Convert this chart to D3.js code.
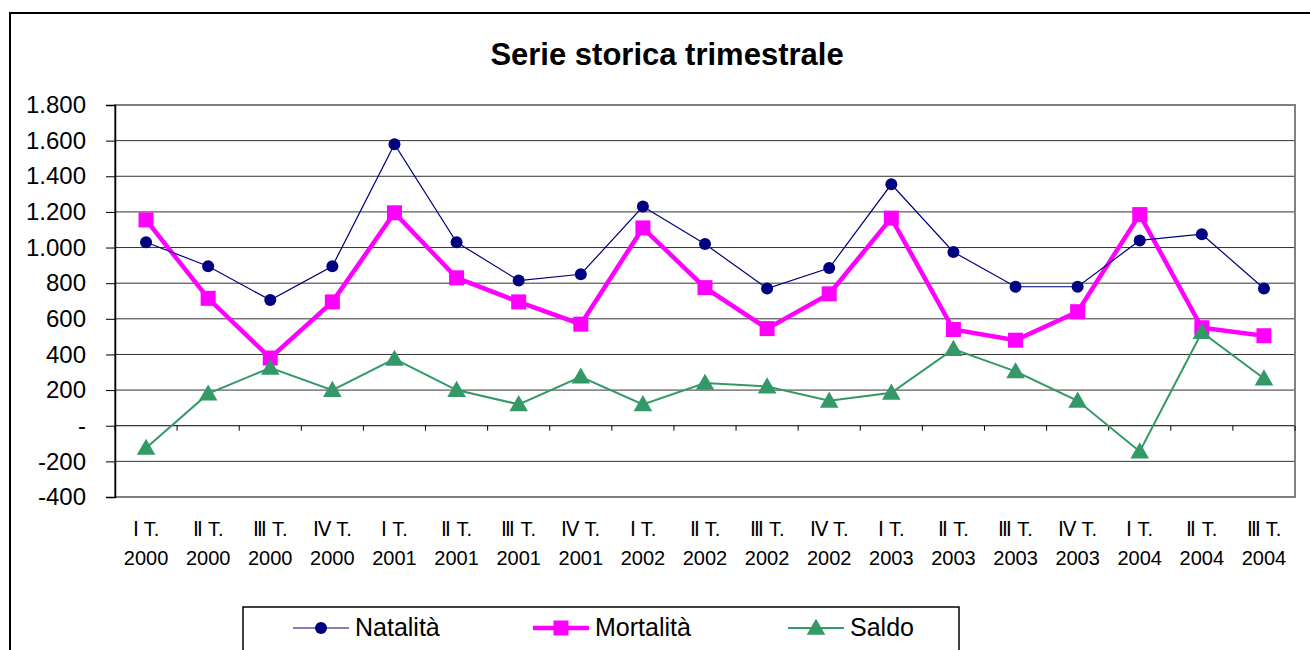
<!DOCTYPE html>
<html>
<head>
<meta charset="utf-8">
<script src="https://cdn.jsdelivr.net/npm/d3@7"></script>
<style>
  body { margin: 0; background: #fff; }
  text { font-family: "Liberation Sans", Arial, sans-serif; fill: #000; }
</style>
</head>
<body>
<script>
const w = 1310;
const h = 650;

// quarters and years along the x axis
const quarters = ["Ⅰ T.", "Ⅱ T.", "Ⅲ T.", "Ⅳ T.",
                  "Ⅰ T.", "Ⅱ T.", "Ⅲ T.", "Ⅳ T.",
                  "Ⅰ T.", "Ⅱ T.", "Ⅲ T.", "Ⅳ T.",
                  "Ⅰ T.", "Ⅱ T.", "Ⅲ T.", "Ⅳ T.",
                  "Ⅰ T.", "Ⅱ T.", "Ⅲ T."];
const years = ["2000","2000","2000","2000","2001","2001","2001","2001",
               "2002","2002","2002","2002","2003","2003","2003","2003",
               "2004","2004","2004"];

const natalita  = [1030, 895, 705, 895, 1580, 1030, 815, 850, 1230, 1020, 770, 885, 1355, 975, 780, 780, 1040, 1075, 770];
const mortalita = [1155, 715, 380, 695, 1195, 830, 695, 570, 1110, 775, 545, 740, 1165, 540, 480, 640, 1185, 550, 505];
const saldo     = [-125, 180, 325, 200, 375, 200, 120, 275, 120, 240, 220, 140, 185, 430, 305, 140, -145, 525, 265];

const yTicks = [-400, -200, 0, 200, 400, 600, 800, 1000, 1200, 1400, 1600, 1800];

const plotLeft = 115, plotRight = 1295, plotTop = 105, plotBottom = 497;
const idx = d3.range(quarters.length);

const xScale = d3.scaleBand()
                 .domain(idx)
                 .range([plotLeft, plotRight]);
const cx = i => xScale(i) + xScale.bandwidth() / 2;

const yScale = d3.scaleLinear()
                 .domain([-400, 1800])
                 .range([plotBottom, plotTop]);

const svg = d3.select("body")
              .append("svg")
              .attr("width", w)
              .attr("height", h);

// outer chart frame
svg.append("rect")
   .attr("x", 10).attr("y", 13)
   .attr("width", 1320).attr("height", 660)
   .attr("fill", "#fff")
   .attr("stroke", "#000")
   .attr("stroke-width", 2);

svg.append("text")
   .attr("x", 667).attr("y", 65)
   .attr("text-anchor", "middle")
   .attr("font-size", 31)
   .attr("font-weight", "bold")
   .text("Serie storica trimestrale");

// gridlines
svg.append("g")
   .selectAll("line")
   .data(yTicks.filter(d => d !== 1800 && d !== -400))
   .enter()
   .append("line")
   .attr("x1", plotLeft).attr("x2", plotRight)
   .attr("y1", d => yScale(d)).attr("y2", d => yScale(d))
   .attr("stroke", d => d === 0 ? "#000" : "#333")
   .attr("stroke-width", 1);

// plot frame (gray)
svg.append("rect")
   .attr("x", plotLeft).attr("y", plotTop)
   .attr("width", plotRight - plotLeft).attr("height", plotBottom - plotTop)
   .attr("fill", "none")
   .attr("stroke", "#808080")
   .attr("stroke-width", 2);

// y axis
const yAxis = d3.axisLeft(yScale)
                .tickValues(yTicks)
                .tickSize(9)
                .tickPadding(20)
                .tickFormat(d => d === 0 ? "-" : d3.format(",")(d).replace(/,/g, ".").replace("−", "-"));

const gy = svg.append("g")
   .attr("transform", "translate(" + plotLeft + ",0)")
   .call(yAxis);
gy.select(".domain").attr("stroke", "#000").attr("stroke-width", 1.5);
gy.selectAll(".tick line").attr("stroke", "#000");
gy.selectAll("text")
  .attr("font-size", 24)
  .attr("font-family", "Liberation Sans, Arial, sans-serif")
  .attr("fill", "#000");

// x tick marks on the zero line
svg.append("g")
   .selectAll("line")
   .data(d3.range(quarters.length + 1))
   .enter()
   .append("line")
   .attr("x1", i => plotLeft + i * xScale.step())
   .attr("x2", i => plotLeft + i * xScale.step())
   .attr("y1", yScale(0)).attr("y2", yScale(0) + 5)
   .attr("stroke", "#000");

// x labels
const xl = svg.append("g")
   .selectAll("text")
   .data(idx)
   .enter()
   .append("text")
   .attr("text-anchor", "middle")
   .attr("font-size", 20);
xl.append("tspan").attr("x", cx).attr("y", 536).text(i => quarters[i]);
xl.append("tspan").attr("x", cx).attr("y", 565).text(i => years[i]);

const line = d3.line()
               .x((d, i) => cx(i))
               .y(d => yScale(d));

const tri = d3.symbol().type(d3.symbolTriangle).size(150);

// Saldo
svg.append("path")
   .datum(saldo)
   .attr("d", line)
   .attr("fill", "none")
   .attr("stroke", "#339966")
   .attr("stroke-width", 2);

// Mortalità
svg.append("path")
   .datum(mortalita)
   .attr("d", line)
   .attr("fill", "none")
   .attr("stroke", "#ff00ff")
   .attr("stroke-width", 4.5);

// Natalità
svg.append("path")
   .datum(natalita)
   .attr("d", line)
   .attr("fill", "none")
   .attr("stroke", "#000080")
   .attr("stroke-width", 1.2);

svg.append("g")
   .selectAll("rect")
   .data(mortalita)
   .enter()
   .append("rect")
   .attr("x", (d, i) => cx(i) - 7.5)
   .attr("y", d => yScale(d) - 7.5)
   .attr("width", 15).attr("height", 15)
   .attr("fill", "#ff00ff");

svg.append("g")
   .selectAll("circle")
   .data(natalita)
   .enter()
   .append("circle")
   .attr("cx", (d, i) => cx(i))
   .attr("cy", d => yScale(d))
   .attr("r", 6)
   .attr("fill", "#000080");

svg.append("g")
   .selectAll("path")
   .data(saldo)
   .enter()
   .append("path")
   .attr("d", tri)
   .attr("transform", (d, i) => "translate(" + cx(i) + "," + (yScale(d) + 1.5) + ")")
   .attr("fill", "#339966");

// legend
svg.append("rect")
   .attr("x", 243).attr("y", 607)
   .attr("width", 716).attr("height", 80)
   .attr("fill", "#fff")
   .attr("stroke", "#000")
   .attr("stroke-width", 1.5);

const legendY = 628;
const legendItems = [
  {name: "Natalità",  x: 293, color: "#000080", sw: 1.2, shape: "circle"},
  {name: "Mortalità", x: 533, color: "#ff00ff", sw: 4.5, shape: "square"},
  {name: "Saldo",     x: 788, color: "#339966", sw: 2,   shape: "triangle"}
];

const lg = svg.append("g")
   .selectAll("g")
   .data(legendItems)
   .enter()
   .append("g");

lg.append("line")
  .attr("x1", d => d.x).attr("x2", d => d.x + 56)
  .attr("y1", legendY).attr("y2", legendY)
  .attr("stroke", d => d.color)
  .attr("stroke-width", d => d.sw);

lg.each(function(d) {
  const g = d3.select(this);
  const mx = d.x + 28;
  if (d.shape === "circle") {
    g.append("circle").attr("cx", mx).attr("cy", legendY).attr("r", 6).attr("fill", d.color);
  } else if (d.shape === "square") {
    g.append("rect").attr("x", mx - 7.5).attr("y", legendY - 7.5)
     .attr("width", 15).attr("height", 15).attr("fill", d.color);
  } else {
    g.append("path").attr("d", tri)
     .attr("transform", "translate(" + mx + "," + (legendY + 1.5) + ")")
     .attr("fill", d.color);
  }
});

lg.append("text")
  .attr("x", d => d.x + 62)
  .attr("y", legendY + 8)
  .attr("font-size", 25)
  .text(d => d.name);
</script>
</body>
</html>
